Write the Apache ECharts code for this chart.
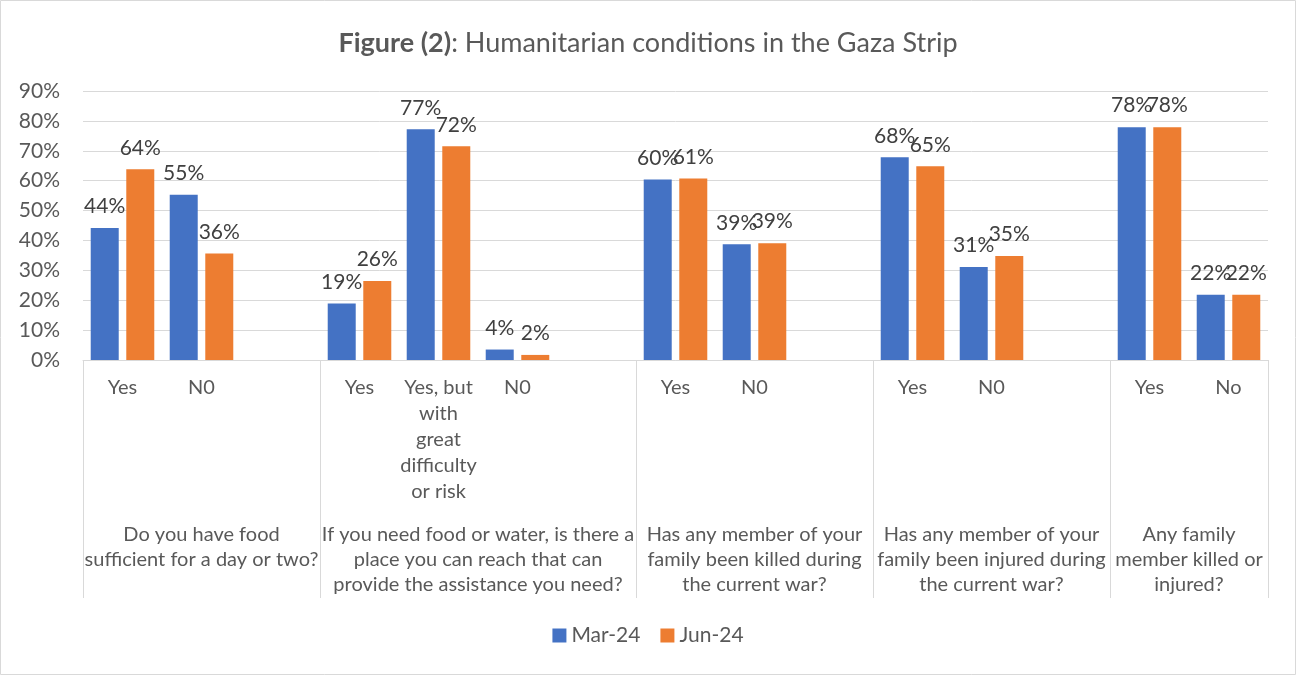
<!DOCTYPE html>
<html>
<head>
<meta charset="utf-8">
<script src="https://cdn.jsdelivr.net/npm/echarts@6/dist/echarts.min.js"></script>
<style>
  html, body { margin: 0; padding: 0; background: #fff; }
  #main { width: 1296px; height: 675px; }
</style>
</head>
<body>
<div id="main"></div>
<script>
// answer options under each question (empty = spacer slot)
const subLabels = ['Yes', 'N0', '',
  'Yes', 'Yes, but\nwith\ngreat\ndifficulty\nor risk', 'N0', '',
  'Yes', 'N0', '',
  'Yes', 'N0', '',
  'Yes', 'No'];
const groupLabels = [
  'Do you have food\nsufficient for a day or two?',
  'If you need food or water, is there a\nplace you can reach that can\nprovide the assistance you need?',
  'Has any member of your\nfamily been killed during\nthe current war?',
  'Has any member of your\nfamily been injured during\nthe current war?',
  'Any family\nmember killed or\ninjured?'
];
const groupSpans = [3, 4, 3, 3, 2];
const mar24 = [44.2, 55.3, null, 18.9, 77.2, 3.5, null, 60.4, 38.7, null, 67.8, 31.1, null, 77.9, 21.8];
const jun24 = [63.8, 35.6, null, 26.4, 71.5, 1.7, null, 60.7, 39.1, null, 64.8, 34.8, null, 77.9, 21.8];
const yTicks = [0, 10, 20, 30, 40, 50, 60, 70, 80, 90];

// group boundaries and centres on the 0..15 slot scale
var bounds = [0], centers = [], groupAt = {};
groupSpans.forEach(function (s, i) {
  var start = bounds[bounds.length - 1];
  bounds.push(start + s);
  centers.push(start + s / 2);
  groupAt[start + s / 2] = groupLabels[i];
});

var FONT = 'Lato';
var chart = echarts.init(document.getElementById('main'));

var barLabel = {
  show: true,
  position: 'top',
  distance: 11,
  color: '#404040',
  fontFamily: FONT,
  fontSize: 21,
  formatter: function (p) { return p.value == null ? '' : Math.round(p.value) + '%'; }
};

chart.setOption({
  animation: false,
  textStyle: { fontFamily: FONT },
  graphic: [{
    type: 'rect',
    shape: { x: 0.5, y: 0.5, width: 1295, height: 674 },
    style: { fill: null, stroke: '#d9d9d9', lineWidth: 1 },
    silent: true
  }],
  title: {
    left: 'center',
    top: 25,
    text: '{b|Figure (2)}{r|: Humanitarian conditions in the Gaza Strip}',
    textStyle: {
      fontWeight: 'normal',
      rich: {
        b: { fontFamily: FONT, fontSize: 27, fontWeight: 'bold', color: '#595959' },
        r: { fontFamily: FONT, fontSize: 27, fontWeight: 'normal', color: '#595959' }
      }
    }
  },
  legend: {
    bottom: 24,
    left: 'center',
    icon: 'rect',
    itemWidth: 14,
    itemHeight: 14,
    itemGap: 20,
    itemTextGap: 6,
    textStyle: { color: '#595959', fontSize: 21, fontFamily: FONT },
    data: ['Mar-24', 'Jun-24']
  },
  grid: { left: 83, right: 28, top: 91, bottom: 315, containLabel: false },
  xAxis: [{
    type: 'category',
    position: 'bottom',
    data: subLabels,
    axisLine: { lineStyle: { color: '#d9d9d9', width: 1 } },
    axisTick: { show: false },
    axisLabel: {
      interval: 0,
      margin: 15,
      color: '#595959',
      fontSize: 20,
      lineHeight: 26,
      align: 'center'
    }
  }, {
    type: 'value',
    position: 'bottom',
    min: 0,
    max: 15,
    axisLine: { show: false },
    splitLine: { show: false },
    axisTick: {
      show: true,
      customValues: bounds,
      length: 238,
      lineStyle: { color: '#d9d9d9', width: 1 }
    },
    axisLabel: {
      customValues: centers,
      margin: 162,
      color: '#595959',
      fontSize: 20,
      lineHeight: 25,
      align: 'center',
      formatter: function (v) { return groupAt[v] || ''; }
    }
  }],
  yAxis: {
    type: 'value',
    min: 0,
    max: 90,
    interval: 10,
    axisLine: { show: false },
    axisTick: { show: false },
    splitLine: { lineStyle: { color: '#d9d9d9', width: 1 } },
    axisLabel: {
      margin: 23,
      color: '#595959',
      fontSize: 21,
      formatter: function (v) { return yTicks.indexOf(v) >= 0 ? v + '%' : ''; }
    }
  },
  series: [{
    name: 'Mar-24',
    type: 'bar',
    xAxisIndex: 0,
    data: mar24,
    barWidth: 28,
    barGap: '27%',
    itemStyle: { color: '#4472C4' },
    label: barLabel
  }, {
    name: 'Jun-24',
    type: 'bar',
    xAxisIndex: 0,
    data: jun24,
    barWidth: 28,
    barGap: '27%',
    itemStyle: { color: '#ED7D31' },
    label: barLabel
  }]
});
</script>
</body>
</html>
